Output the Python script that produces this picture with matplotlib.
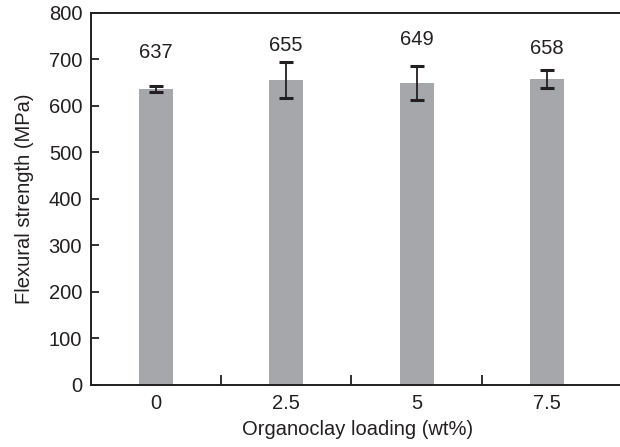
import matplotlib
matplotlib.use("Agg")
import matplotlib.pyplot as plt

# loading levels (wt%) and mean flexural strength (MPa)
loading = ["0", "2.5", "5", "7.5"]
strength = [637, 655, 649, 658]
err = [6, 39, 37, 19]
label_y = [716, 731, 744, 724]  # where the value labels sit

plt.rcParams['font.family'] = ['Liberation Sans', 'DejaVu Sans']
fs = 14.5

fig = plt.figure(figsize=(6.2, 4.47), dpi=100)
ax = fig.add_axes([90.5 / 620, (447 - 384.7) / 447, (625 - 90.5) / 620, (384.7 - 13) / 447])

x = range(len(loading))
ax.bar(x, strength, width=0.26, color='#a6a7ab', zorder=1)
ax.errorbar(x, strength, yerr=err, fmt='none', ecolor='#231f20',
            elinewidth=1.3, capsize=5, capthick=2.2, zorder=2)

for i, (v, ly) in enumerate(zip(strength, label_y)):
    ax.text(i, ly, str(v), ha='center', va='center', fontsize=fs, color='#231f20')

ax.set_xlim(-0.5, -0.5 + (625 - 90.5) / 130.5)
ax.set_ylim(0, 800)
ax.set_yticks(range(0, 801, 100))
ax.set_xticks(x)
ax.set_xticklabels(loading)
ax.set_xticks([0.5, 1.5, 2.5], minor=True)

ax.tick_params(axis='x', which='major', length=0, pad=7, labelsize=fs, colors='#231f20')
ax.tick_params(axis='x', which='minor', direction='in', length=7, width=1.3, color='#231f20')
ax.tick_params(axis='y', direction='in', length=6, width=1.3, pad=6, labelsize=fs, colors='#231f20')

for s in ['left', 'top', 'bottom']:
    ax.spines[s].set_linewidth(1.4)
    ax.spines[s].set_color('#231f20')
ax.spines['right'].set_visible(False)

ax.set_xlabel("Organoclay loading (wt%)", fontsize=fs, color='#231f20', labelpad=5)
ax.set_ylabel("Flexural strength (MPa)", fontsize=fs, color='#231f20', labelpad=10.5)

fig.savefig("out.png", dpi=100)
